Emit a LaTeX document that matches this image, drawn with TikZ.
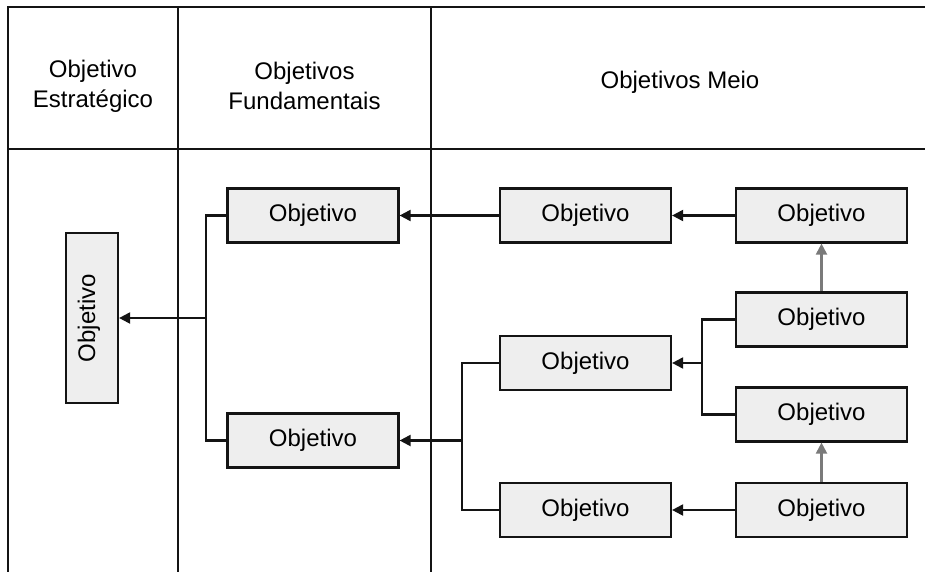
\documentclass[tikz,border=0pt]{standalone}
\usepackage{fontspec}
\setmainfont{Liberation Sans}
\usetikzlibrary{arrows.meta}
\definecolor{boxfill}{HTML}{EEEEEE}
\definecolor{ink}{HTML}{141414}
\definecolor{upink}{HTML}{7A7A7A}
\begin{document}
\begin{tikzpicture}[x=1pt,y=-1pt,
  frameline/.style={line width=2.2pt,draw=ink},
  objbox/.style={draw=ink,line width=2.2pt,fill=boxfill,minimum width=171pt,minimum height=54pt,inner sep=0pt,
    font=\fontsize{24}{28}\selectfont},
  vbox/.style={draw=ink,line width=2.2pt,fill=boxfill,minimum width=52pt,minimum height=170pt,inner sep=0pt},
  headtext/.style={align=center,font=\fontsize{24}{30}\selectfont},
  link/.style={draw=ink,line width=2.1pt,-{Triangle[length=11pt,width=11pt]}},
  upl/.style={draw=upink,line width=2.1pt,-{Triangle[length=11pt,width=11pt]}},
  wire/.style={draw=ink,line width=2.1pt}]
\useasboundingbox[fill=white] (0,0) rectangle (925,572);

% table grid
\draw[frameline] (925,7) -- (8,7) -- (8,572);
\draw[frameline] (8,149) -- (925,149);
\draw[frameline] (178,7) -- (178,572);
\draw[frameline] (431,7) -- (431,572);

% column headings
\node[headtext] (h1) at (93,86) {Objetivo\\Estratégico};
\node[headtext] (h2) at (304.5,86) {Objetivos\\Fundamentais};
\node[headtext] (h3) at (680,82) {Objetivos Meio};

% strategic objective
\node[vbox] (S) at (92,318) {};
\node[rotate=90,font=\fontsize{24}{28}\selectfont] (St) at ([xshift=-3pt]S.center) {Objetivo};

% fundamental objectives
\node[objbox] (F1) at (313,215.5) {Objetivo};
\node[objbox] (F2) at (313,440.5) {Objetivo};

% means objectives
\node[objbox] (L1) at (585.5,215.5) {Objetivo};
\node[objbox] (L2) at (585.5,363) {Objetivo};
\node[objbox] (L3) at (585.5,510) {Objetivo};
\node[objbox] (R1) at (821.5,215.5) {Objetivo};
\node[objbox] (R2) at (821.5,319.5) {Objetivo};
\node[objbox] (R3) at (821.5,414.5) {Objetivo};
\node[objbox] (R4) at (821.5,510) {Objetivo};

% junction points
\coordinate (jF) at (206,318);
\coordinate (jL) at (462,440.5);
\coordinate (jR) at (702,363);

% connectors
\draw[wire] (F1.west) -| (jF) |- (F2.west);
\draw[link] (jF) -- (S.east);
\draw[link] (L1.west) -- (F1.east);
\draw[link] (R1.west) -- (L1.east);
\draw[wire] (L2.west) -| (jL) |- (L3.west);
\draw[link] (jL) -- (F2.east);
\draw[wire] (R2.west) -| (jR) |- (R3.west);
\draw[link] (jR) -- (L2.east);
\draw[link] (R4.west) -- (L3.east);
\draw[upl] (R2.north) -- (R1.south);
\draw[upl] (R4.north) -- (R3.south);
\end{tikzpicture}
\end{document}
